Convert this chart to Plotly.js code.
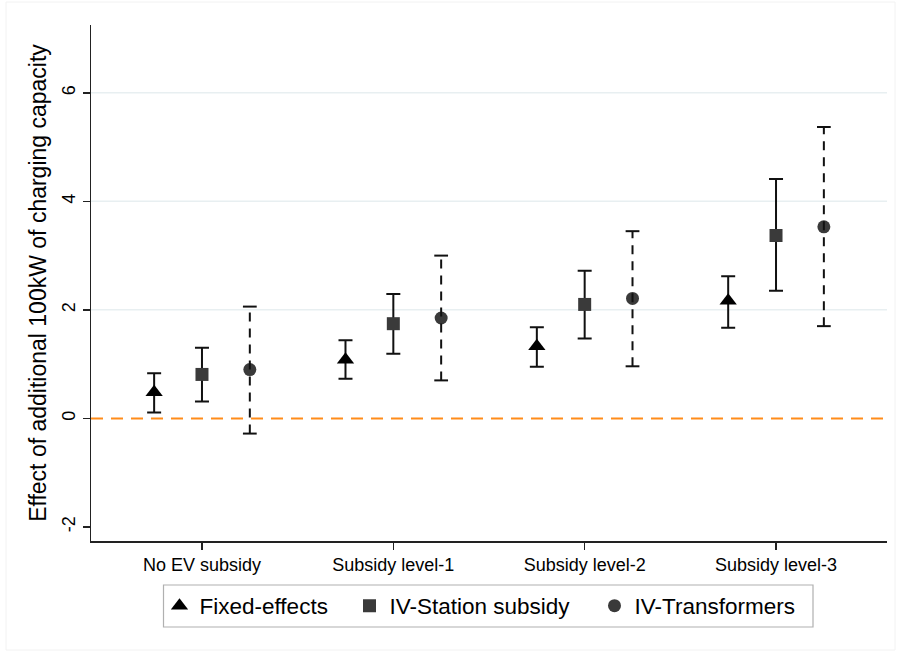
<!DOCTYPE html>
<html><head><meta charset="utf-8">
<script src="https://cdn.plot.ly/plotly-3.0.1.min.js"></script>
<style>body{margin:0;background:#fff}#chart{width:901px;height:657px}</style>
</head><body><div id="chart"></div>
<script>
const categories = ["No EV subsidy", "Subsidy level-1", "Subsidy level-2", "Subsidy level-3"];
const seriesNames = ["Fixed-effects", "IV-Station subsidy", "IV-Transformers"];
const feEst = [0.48, 1.08, 1.33, 2.17];
const feLo  = [0.11, 0.73, 0.95, 1.67];
const feHi  = [0.83, 1.44, 1.68, 2.62];
const ivsEst = [0.81, 1.745, 2.10, 3.37];
const ivsLo  = [0.31, 1.19, 1.47, 2.35];
const ivsHi  = [1.30, 2.29, 2.72, 4.41];
const ivtEst = [0.90, 1.85, 2.21, 3.53];
const ivtLo  = [-0.28, 0.70, 0.96, 1.70];
const ivtHi  = [2.06, 3.00, 3.45, 5.37];
const yTicks = [-2, 0, 2, 4, 6];
const gridVals = [2, 4, 6];

const catPos = categories.map((c, i) => i + 1);
const offset = 0.25;
const xFE = catPos.map(p => p - offset);
const xIVS = catPos.slice();
const xIVT = catPos.map(p => p + offset);

function solidTrace(name, x, est, lo, hi, symbol, color, size, leg) {
  return {
    type: 'scatter', mode: 'markers', name: name, x: x, y: est, legend: leg,
    marker: {symbol: symbol, color: color, size: size},
    error_y: {type: 'data', symmetric: false,
      array: est.map((v, i) => hi[i] - v),
      arrayminus: est.map((v, i) => v - lo[i]),
      color: '#111', thickness: 2, width: 7}
  };
}

const traces = [
  solidTrace(seriesNames[0], xFE, feEst, feLo, feHi, 'triangle-up', '#000', 15, 'legend'),
  solidTrace(seriesNames[1], xIVS, ivsEst, ivsLo, ivsHi, 'square', '#3a3a3a', 13, 'legend2'),
  {type: 'scatter', mode: 'markers', name: seriesNames[2], x: xIVT, y: ivtEst, legend: 'legend3',
   marker: {symbol: 'circle', color: '#3a3a3a', size: 13}}
];

const shapes = [];
gridVals.forEach(g => shapes.push({type: 'line', xref: 'paper', yref: 'y', x0: 0, x1: 1, y0: g, y1: g,
  line: {color: '#e8eff1', width: 1.5}, layer: 'below'}));
shapes.push({type: 'line', xref: 'paper', yref: 'y', x0: 0, x1: 1, y0: 0, y1: 0,
  line: {color: '#ff8c1a', width: 2, dash: '12px,8px'}, layer: 'below'});
const capHalf = 0.036;
xIVT.forEach((x, i) => {
  shapes.push({type: 'line', xref: 'x', yref: 'y', x0: x, x1: x, y0: ivtLo[i], y1: ivtHi[i],
    line: {color: '#111', width: 2, dash: '9px,7px'}});
  [ivtLo[i], ivtHi[i]].forEach(v => shapes.push({type: 'line', xref: 'x', yref: 'y',
    x0: x - capHalf, x1: x + capHalf, y0: v, y1: v, line: {color: '#111', width: 2}}));
});
// pixel -> paper helpers (plot area: x 91..887, y 25..541)
const TOP = 25, BOT = 541;
const px = p => (p - 91) / 796;
const py = p => (BOT - p) / (BOT - TOP);
// legend frame
shapes.push({type: 'rect', xref: 'paper', yref: 'paper', x0: px(163.5), x1: px(813), y0: py(585), y1: py(627),
  line: {color: '#b0b0b0', width: 1.2}, fillcolor: 'rgba(0,0,0,0)'});
// graph region outline (very faint)
shapes.push({type: 'rect', xref: 'paper', yref: 'paper', x0: px(6), x1: px(895), y0: py(650), y1: py(2),
  line: {color: '#f2f2f2', width: 1}, fillcolor: 'rgba(0,0,0,0)', layer: 'below'});

const legBase = {orientation: 'h', yanchor: 'middle', y: py(606), xanchor: 'left',
  borderwidth: 0, bgcolor: 'rgba(0,0,0,0)', font: {size: 22.5}, itemwidth: 30};

const layout = {
  width: 901, height: 657,
  margin: {l: 91, r: 14, t: TOP, b: 657 - BOT},
  paper_bgcolor: '#fff', plot_bgcolor: '#fff',
  font: {family: 'Arial, "Liberation Sans", sans-serif', color: '#000'},
  showlegend: true,
  legend: Object.assign({}, legBase, {x: px(159.5)}),
  legend2: Object.assign({}, legBase, {x: px(349.5)}),
  legend3: Object.assign({}, legBase, {x: px(594.5)}),
  xaxis: {range: [0.42, 4.58], tickvals: catPos, ticktext: categories,
    showgrid: false, zeroline: false, showline: true, linecolor: '#222', linewidth: 1.5,
    ticks: 'outside', ticklen: 7, tickcolor: '#222', tickwidth: 1.5,
    tickfont: {size: 18}},
  yaxis: {range: [-2.26, 7.25], tickvals: yTicks, ticktext: yTicks.map(String),
    showgrid: false, zeroline: false, showline: true, linecolor: '#222', linewidth: 1.5,
    ticks: 'outside', ticklen: 7, tickcolor: '#222', tickwidth: 1.5,
    tickangle: -90, tickfont: {size: 18},
    title: {text: 'Effect of additional 100kW of charging capacity', font: {size: 23}, standoff: 6}},
  shapes: shapes
};
Plotly.newPlot('chart', traces, layout, {displayModeBar: false, staticPlot: true});
</script></body></html>
